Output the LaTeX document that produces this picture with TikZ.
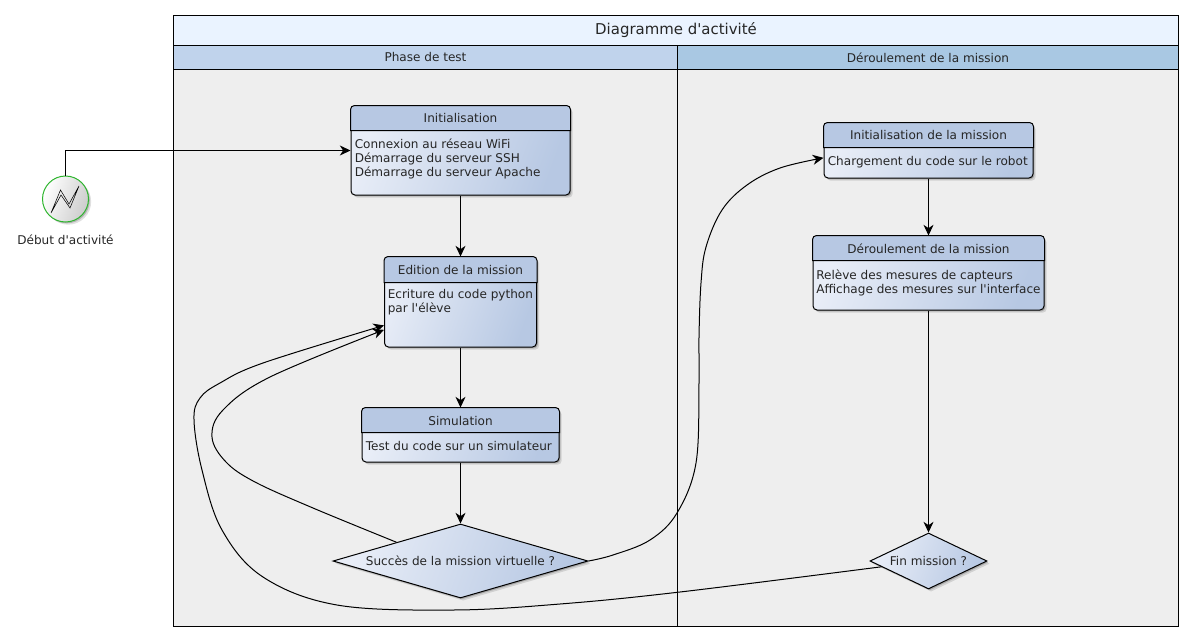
\documentclass[tikz,border=0pt]{standalone}
\usepackage{xcolor}
\usepackage{fontspec}
\setmainfont[Ligatures=TeXOff]{DejaVu Sans}
\usetikzlibrary{shapes.geometric, arrows.meta, positioning, shadows, calc}

\definecolor{headblue}{HTML}{B7C8E3}
\definecolor{bodylight}{HTML}{E8EDF7}
\definecolor{lanegray}{HTML}{EEEEEE}
\definecolor{titleblue}{HTML}{EAF3FF}
\definecolor{lanehead1}{HTML}{C0D3EC}
\definecolor{lanehead2}{HTML}{A9C8E3}
\definecolor{startgreen}{HTML}{2DB52D}

% header strip and title of an activity box: node name, title, height of the strip
\newcommand{\headbar}[3]{
    \path[draw=black, line width=0.75pt, fill=headblue]
        ($(#1.north west)+(0,#3)$) [rounded corners=3pt] -- (#1.north west) -- (#1.north east) [sharp corners] -- ($(#1.north east)+(0,#3)$) -- cycle;
    \node[lbl] (#1-title) at ($(#1.north)+(0,#3/2+0.5)$) {#2};
}

\begin{document}
\begin{tikzpicture}[
    x=0.75pt, y=-0.75pt,
    >={Stealth[length=8pt, width=7.5pt, inset=2.5pt]},
    every node/.style={font=\fontsize{9.05}{10.5}\selectfont, text=black!85},
    softshadow/.style={drop shadow={shadow xshift=2pt, shadow yshift=-2pt, fill=black, opacity=0.12}, drop shadow={shadow xshift=1pt, shadow yshift=-1pt, fill=black, opacity=0.2}},
    flow/.style={draw, line width=0.75pt, ->},
    lbl/.style={inner sep=0pt},
    lanebox/.style={rectangle, draw, line width=0.75pt, inner sep=0pt, fill=lanegray},
    lanehead/.style={rectangle, draw, line width=0.75pt, inner sep=0pt},
    actbox/.style={rectangle, draw, line width=0.75pt, rounded corners=3pt, inner sep=0pt, left color=bodylight, right color=headblue, shading angle=70, softshadow},
    bodytext/.style={anchor=north west, align=left, inner sep=0pt},
    decision/.style={diamond, draw, line width=0.75pt, inner sep=0pt, left color=bodylight, right color=headblue, shading angle=70, softshadow}
]
\useasboundingbox (0,0) rectangle (1194,642);

% ============================================================
% SWIMLANES
% ============================================================
\node[lanebox, minimum width=378pt, minimum height=417.75pt] (lane1) at (425.5,347.5) {};
\node[lanebox, minimum width=375.75pt, minimum height=417.75pt] (lane2) at (928,347.5) {};
\node[lanehead, fill=lanehead1, minimum width=378pt, minimum height=18pt] (phase) at (425.5,57.5) {Phase de test};
\node[lanehead, fill=lanehead2, minimum width=375.75pt, minimum height=18pt] (deroule) at (928,57.5) {Déroulement de la mission};
\node[lanehead, fill=titleblue, minimum width=753.75pt, minimum height=22pt, font=\fontsize{11.2}{13}\selectfont] (diagtitle) at (676,30.5) {Diagramme d'activité};

% ============================================================
% START EVENT
% ============================================================
\node[circle, draw=startgreen, line width=0.75pt, inner sep=0pt, minimum size=34.5pt, left color=white, right color=black!20, shading angle=70, softshadow] (start) at (65.5,199) {};
\node[lbl, below=9pt of start] (startlbl) {Début d'activité};
\draw[line width=0.4pt, line join=miter] (51,213) -- (60.5,190) -- (69,204) -- (79,186) -- (70,208) -- (61,195) -- cycle;

% ============================================================
% PHASE DE TEST
% ============================================================
\node[actbox, minimum width=164.25pt, minimum height=66.75pt] (init) at (460.5,150.5) {};
\node[actbox, below=45.75pt of init, minimum width=114pt, minimum height=67.5pt] (edit) {};
\node[actbox, below=45pt of edit, minimum width=147.75pt, minimum height=40.5pt] (simu) {};
\node[decision, aspect=3.45, below=45.75pt of simu, minimum width=191.25pt, minimum height=55.5pt] (succes) {Succès de la mission virtuelle ?};

\headbar{init}{Initialisation}{25}
\headbar{edit}{Edition de la mission}{26}
\headbar{simu}{Simulation}{25}

\node[bodytext] (initbody) at ($(init.north west)+(4,33)$) {Connexion au réseau WiFi\\Démarrage du serveur SSH\\Démarrage du serveur Apache};
\node[bodytext] (editbody) at ($(edit.north west)+(3.5,33)$) {Ecriture du code python\\par l'élève};
\node[bodytext] (simubody) at ($(simu.north west)+(4,34)$) {Test du code sur un simulateur};

% ============================================================
% DEROULEMENT DE LA MISSION
% ============================================================
\node[actbox, minimum width=156.75pt, minimum height=41.25pt] (missinit) at (928.5,150.5) {};
\node[actbox, below=42.75pt of missinit, minimum width=173.25pt, minimum height=55.5pt] (mission) {};
\node[decision, aspect=2.09, below=166.5pt of mission, minimum width=87.75pt, minimum height=42pt] (fin) {Fin mission ?};

\headbar{missinit}{Initialisation de la mission}{25}
\headbar{mission}{Déroulement de la mission}{25}

\node[bodytext] (missinitbody) at ($(missinit.north west)+(4,34)$) {Chargement du code sur le robot};
\node[bodytext] (missionbody) at ($(mission.north west)+(3.5,34)$) {Relève des mesures de capteurs\\Affichage des mesures sur l'interface};

% ============================================================
% CONNECTORS
% ============================================================
\draw[flow] (start.north) |- (init.west);
\draw[flow] (init) -- (edit);
\draw[flow] (edit) -- (simu);
\draw[flow] (simu) -- (succes);
\draw[flow] (missinit) -- (mission);
\draw[flow] (mission) -- (fin);

% retries back to the edition box
\draw[flow] plot[smooth, tension=0.6] coordinates {(succes.north west) (313,508) (255,482) (226,462) (212,437) (223,410) (270,377) (edit.200)};
\draw[flow] plot[smooth, tension=0.6] coordinates {(fin.187) (680,592) (560,604) (453,610) (337,605) (263,577) (222,530) (202,470) (194,420) (200,398) (220,383) (263,363) (edit.197)};
\draw[flow] plot[smooth, tension=0.6] coordinates {(succes.east) (613,555) (650,540) (677,513) (696,463) (699,383) (699,337) (701,283) (706,247) (722,210) (747,185) (780,168) (missinit.184)};

\end{tikzpicture}
\end{document}
